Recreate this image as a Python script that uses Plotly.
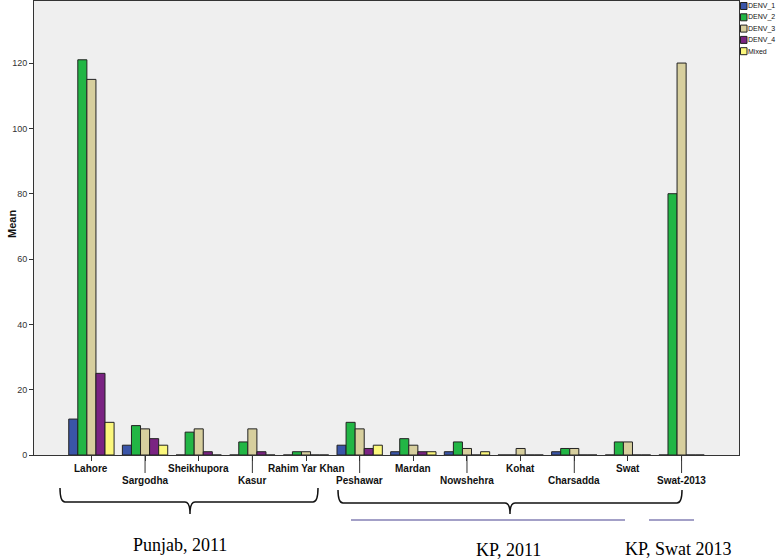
import plotly.graph_objects as go

categories = ["Lahore", "Sargodha", "Sheikhupora", "Kasur", "Rahim Yar Khan",
              "Peshawar", "Mardan", "Nowshehra", "Kohat", "Charsadda", "Swat", "Swat-2013"]
denv_1 = [11, 3, 0, 0, 0, 3, 1, 1, 0, 1, 0, 0]
denv_2 = [121, 9, 7, 4, 1, 10, 5, 4, 0, 2, 4, 80]
denv_3 = [115, 8, 8, 8, 1, 8, 3, 2, 2, 2, 4, 120]
denv_4 = [25, 5, 1, 1, 0, 2, 1, 0, 0, 0, 0, 0]
mixed = [10, 3, 0, 0, 0, 3, 1, 1, 0, 0, 0, 0]
series_names = ["DENV_1", "DENV_2", "DENV_3", "DENV_4", "Mixed"]
series_values = [denv_1, denv_2, denv_3, denv_4, mixed]
colors = ["#3a55a8", "#22b645", "#d7cf9e", "#7a2382", "#fbf77c"]
y_ticks = [0, 20, 40, 60, 80, 100, 120]
group_labels = ["Punjab, 2011", "KP, 2011", "KP, Swat 2013"]

W, H = 778, 559
L, R, T, B = 34, 739, 1, 455


def px(xp):
    return (xp - L) / (R - L)


def py(yp):
    return (B - yp) / (B - T)


fig = go.Figure()
for name, vals, col in zip(series_names, series_values, colors):
    fig.add_trace(go.Bar(
        x=list(range(len(categories))), y=vals, name=name,
        marker=dict(color=col, line=dict(color="#222222", width=1)),
    ))

annotations = []
shapes = []
for i, cat in enumerate(categories):
    row2 = i % 2 == 1
    annotations.append(dict(
        x=i, xref="x", y=py(480 if row2 else 468), yref="paper",
        text=cat, showarrow=False, yanchor="middle", xanchor="center",
        font=dict(family="Liberation Sans, Arial", size=10, color="#111111", weight="bold"),
    ))
    if row2:
        shapes.append(dict(type="line", xref="x", yref="paper", x0=i, x1=i,
                           y0=0, y1=py(473), line=dict(color="#333333", width=1)))


def path(points):
    s = ""
    for cmd, pts in points:
        s += cmd + " " + " ".join(f"{px(a):.5f},{py(b):.5f}" for a, b in pts) + " "
    return s.strip()


# Punjab bracket
shapes.append(dict(type="path", xref="paper", yref="paper", line=dict(color="#111111", width=1.5),
                   path=path([("M", [(60, 488)]), ("Q", [(60, 502), (65, 502)]),
                              ("L", [(185, 502)]), ("Q", [(190, 502), (190, 514)]),
                              ("Q", [(190, 502), (195, 502)]), ("L", [(313, 502)]),
                              ("Q", [(318, 502), (318, 488)])])))
# KP bracket
shapes.append(dict(type="path", xref="paper", yref="paper", line=dict(color="#111111", width=1.5),
                   path=path([("M", [(338, 490)]), ("Q", [(338, 503), (343, 503)]),
                              ("L", [(505, 503)]), ("Q", [(510, 503), (510, 514)]),
                              ("Q", [(510, 503), (515, 503)]), ("L", [(677, 503)]),
                              ("Q", [(682, 503), (682, 490)])])))
# purple lines
for x0, x1 in [(351, 625), (649, 694)]:
    shapes.append(dict(type="line", xref="paper", yref="paper", x0=px(x0), x1=px(x1),
                       y0=py(520), y1=py(520), line=dict(color="#8580b5", width=1.5)))

for text, (cx, cy) in zip(group_labels, [(180, 545), (508, 550), (678, 549)]):
    annotations.append(dict(x=px(cx), y=py(cy), xref="paper", yref="paper", text=text,
                            showarrow=False, xanchor="center", yanchor="middle",
                            font=dict(family="Liberation Sans, Arial", size=10) if False else
                            dict(family="Liberation Serif, Times New Roman", size=18, color="#000000")))

# y-axis title
annotations.append(dict(x=px(12), y=py(224), xref="paper", yref="paper", text="<b>Mean</b>",
                        showarrow=False, textangle=-90, xanchor="center", yanchor="middle",
                        font=dict(family="Liberation Sans, Arial", size=11, color="#111111")))

# manual legend (keeps the plot area fixed like the original)
for k, (name, col) in enumerate(zip(series_names, colors)):
    yc = 6 + k * 11.3
    shapes.append(dict(type="rect", xref="paper", yref="paper",
                       x0=px(740.5), x1=px(747), y0=py(yc - 3.5), y1=py(yc + 3.5),
                       fillcolor=col, line=dict(color="#222222", width=1)))
    annotations.append(dict(x=px(747), y=py(yc), xref="paper", yref="paper", text=name,
                            showarrow=False, xanchor="left", yanchor="middle", borderpad=0,
                            font=dict(family="Liberation Sans, Arial", size=7, color="#111111")))

fig.update_layout(
    width=W, height=H,
    margin=dict(l=L, r=W - R, t=T, b=H - B, pad=0),
    paper_bgcolor="white", plot_bgcolor="#efefef",
    barmode="group", bargap=0.155, bargroupgap=0,
    showlegend=False,
    xaxis=dict(range=[-1.07, len(categories) - 1 + 1.07], tickmode="array",
               tickvals=list(range(len(categories))), showticklabels=False,
               ticks="outside", ticklen=5, tickcolor="#333333",
               showline=True, linecolor="#333333", linewidth=1, mirror=True,
               showgrid=False, zeroline=False),
    yaxis=dict(range=[0, 139], tickvals=y_ticks, ticks="outside", ticklen=4,
               tickcolor="#333333", tickfont=dict(family="Liberation Sans, Arial", size=9, color="#333333"),
               showline=True, linecolor="#333333", linewidth=1, mirror=True,
               showgrid=False, zeroline=False),
    annotations=annotations, shapes=shapes,
)

fig.write_html("out.html", config={"displayModeBar": False},
               post_script="document.body.style.margin='0';document.body.style.overflow='hidden';")
